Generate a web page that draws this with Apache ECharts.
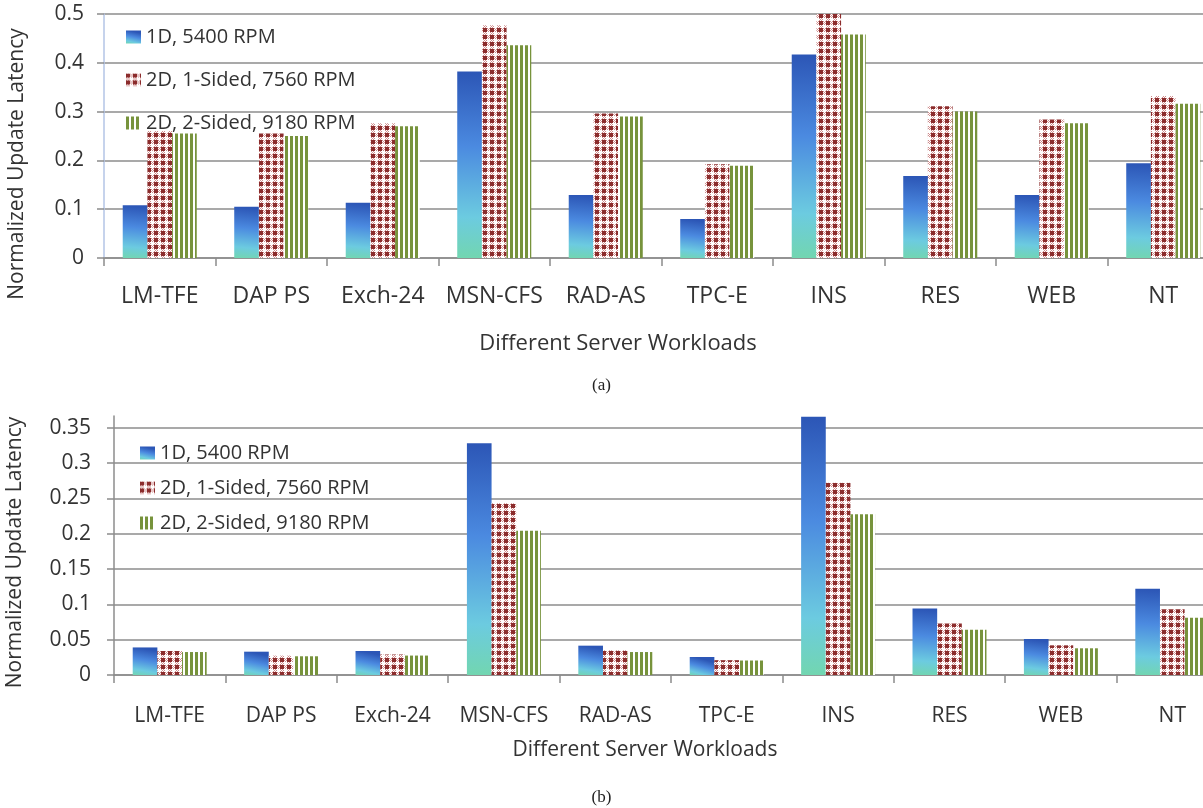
<!DOCTYPE html>
<html><head><meta charset="utf-8">
<script src="https://cdn.jsdelivr.net/npm/echarts@6/dist/echarts.min.js"></script>
<style>html,body{margin:0;padding:0;background:#fff}#c{width:1203px;height:808px}</style>
</head><body><div id="c"></div>
<script>
// ---- data ----
const categories = ['LM-TFE','DAP PS','Exch-24','MSN-CFS','RAD-AS','TPC-E','INS','RES','WEB','NT'];
const seriesNames = ['1D, 5400 RPM','2D, 1-Sided, 7560 RPM','2D, 2-Sided, 9180 RPM'];
// (a)
const a_1D      = [0.108, 0.105, 0.113, 0.382, 0.129, 0.080, 0.417, 0.168, 0.129, 0.194];
const a_2D1S    = [0.260, 0.255, 0.276, 0.477, 0.296, 0.192, 0.500, 0.311, 0.284, 0.332];
const a_2D2S    = [0.255, 0.250, 0.270, 0.436, 0.290, 0.189, 0.458, 0.300, 0.276, 0.316];
// (b)
const b_1D      = [0.039, 0.033, 0.034, 0.328, 0.0415, 0.0255, 0.3655, 0.094, 0.051, 0.122];
const b_2D1S    = [0.034, 0.0275, 0.029, 0.243, 0.035, 0.021, 0.272, 0.073, 0.042, 0.093];
const b_2D2S    = [0.0325, 0.0265, 0.0275, 0.204, 0.0325, 0.0205, 0.2275, 0.064, 0.0378, 0.081];
const yTitle = 'Normalized Update Latency';
const xTitle = 'Different Server Workloads';
const captions = ['(a)', '(b)'];

// ---- styles ----
function checker(){
  const c=document.createElement('canvas'); c.width=7; c.height=7;
  const g=c.getContext('2d');
  g.fillStyle='#ffffff'; g.fillRect(0,0,7,7);
  g.fillStyle='#cf8c8c';
  for(let y=0;y<7;y++) for(let x=0;x<7;x++){
    if((x<4 && y<4) || (x>=4 && y>=4)) continue;
    if((x+y)%2===0) g.fillRect(x,y,1,1);
  }
  g.fillStyle='#8b2c2c'; g.fillRect(0,0,4,4);
  return c;
}
function stripes(){
  const c=document.createElement('canvas'); c.width=5; c.height=4;
  const g=c.getContext('2d');
  g.fillStyle='#ffffff'; g.fillRect(0,0,5,4);
  g.fillStyle='#77933c'; g.fillRect(0,0,3,4);
  return c;
}
const blueFill = new echarts.graphic.LinearGradient(0.2,0,0,1,[
  {offset:0,color:'#2c56b6'},{offset:0.4,color:'#4b8ae0'},
  {offset:0.78,color:'#6ccbe0'},{offset:1,color:'#72d6b0'}]);
const redFill = {image: checker(), repeat:'repeat'};
const greenFill = {image: stripes(), repeat:'repeat'};
const fills = [blueFill, redFill, greenFill];

const sans = "'Open Sans', sans-serif";
const grey = '#8c8c8c';

function yAxisCfg(gi, max, interval, axisColor, gap, pad, margin){
  return {
    gridIndex: gi, type:'value', min:0, max:max, interval:interval,
    name: yTitle, nameLocation:'middle', nameGap: gap, nameRotate: 90,
    nameTextStyle:{fontFamily:sans, fontSize:21, color:'#333', padding:pad},
    axisLine:{show:true, lineStyle:{color:axisColor, width:1.5}},
    axisTick:{show:true, length:7, lineStyle:{color:grey, width:1.5}},
    axisLabel:{fontFamily:sans, fontSize:21, color:'#333', margin:margin, showMaxLabel: gi===0,
      formatter: v => String(+(+v).toFixed(2))},
    splitLine:{show:true, showMaxLine: gi===0, lineStyle:{color:grey, width:1.5}}
  };
}
function xAxisCfg(gi, size, nsize, margin, gap, pad){
  return {
    gridIndex: gi, type:'category', data: categories,
    name: xTitle, nameLocation:'middle', nameGap: gap,
    nameTextStyle:{fontFamily:sans, fontSize:nsize, color:'#333', padding:pad},
    axisLine:{lineStyle:{color:grey, width:1.5}},
    axisTick:{show:true, length:8, lineStyle:{color:grey, width:1.5}},
    axisLabel:{fontFamily:sans, fontSize:size, color:'#333', margin:margin, interval:0}
  };
}
function bars(gi, arrs){
  return arrs.map((d,i)=>({
    type:'bar', name: seriesNames[i], xAxisIndex:gi, yAxisIndex:gi, data:d,
    barGap:'0%', barCategoryGap:'33.6%',
    itemStyle:{color: fills[i]}, emphasis:{disabled:true}
  }));
}
function legendCfg(top, gap, left){
  return {
    data: seriesNames, orient:'vertical', left:left, top:top, itemGap:gap, padding:0,
    itemWidth:15, itemHeight:13, icon:'rect', selectedMode:false,
    textStyle:{fontFamily:sans, fontSize:20, color:'#333', lineHeight:20}
  };
}

const chart = echarts.init(document.getElementById('c'), null, {renderer:'canvas'});
chart.setOption({
  backgroundColor:'#ffffff',
  animation:false,
  title: [
    {text:captions[0], left:'center', top:372, textStyle:{fontFamily:"'Liberation Serif', serif", fontSize:17, fontWeight:'normal', color:'#222'}},
    {text:captions[1], left:'center', top:784, textStyle:{fontFamily:"'Liberation Serif', serif", fontSize:17, fontWeight:'normal', color:'#222'}}
  ],
  legend: [legendCfg(27, 23, 126), legendCfg(443, 15, 140)],
  grid: [
    {left:104, top:14, height:244, right:-16, outerBoundsMode:'none', containLabel:false},
    {left:114, top:416, height:259, right:-25, outerBoundsMode:'none', containLabel:false}
  ],
  xAxis: [xAxisCfg(0, 23, 22, 27, 75, [0,87,0,0]), xAxisCfg(1, 21, 21, 31, 65, [0,52,0,0])],
  yAxis: [yAxisCfg(0, 0.5, 0.1, '#b3c5e6', 76, [0,56,0,0], 20), yAxisCfg(1, 0.3665, 0.05, grey, 88, [0,14,0,0], 23)],
  series: [...bars(0,[a_1D,a_2D1S,a_2D2S]), ...bars(1,[b_1D,b_2D1S,b_2D2S])]
});
</script></body></html>
